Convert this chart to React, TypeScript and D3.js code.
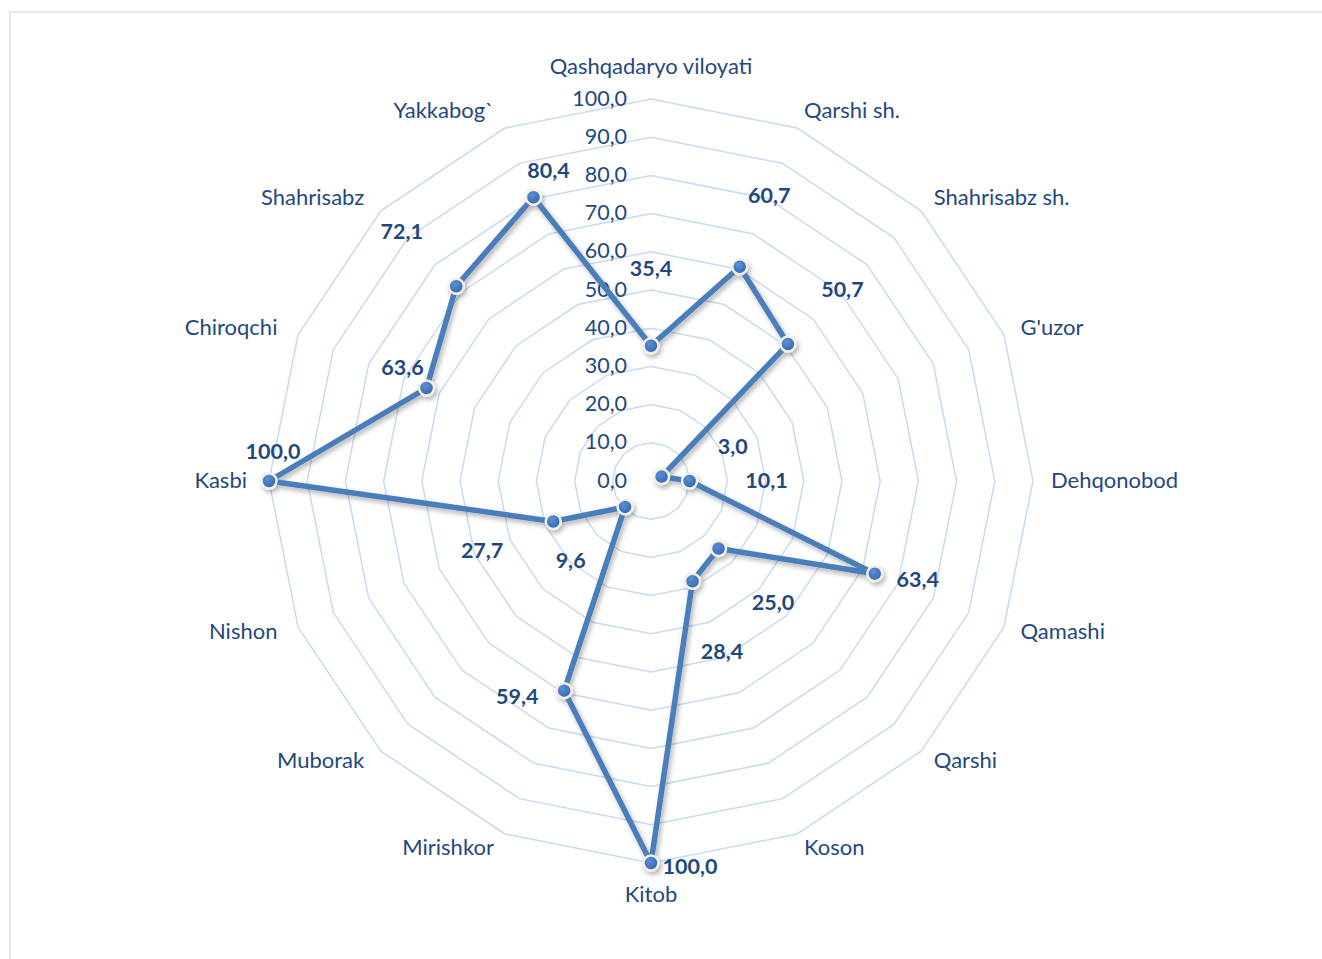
import React, { useEffect } from 'react';
import * as d3 from 'd3';

const categories = [
  'Qashqadaryo viloyati', 'Qarshi sh.', 'Shahrisabz sh.', "G'uzor", 'Dehqonobod',
  'Qamashi', 'Qarshi', 'Koson', 'Kitob', 'Mirishkor', 'Muborak', 'Nishon',
  'Kasbi', 'Chiroqchi', 'Shahrisabz', 'Yakkabog`'
];
const values = [35.4, 60.7, 50.7, 3.0, 10.1, 63.4, 25.0, 28.4, 100.0, 59.4, 9.6, 27.7, 100.0, 63.6, 72.1, 80.4];
const ticks = [0, 10, 20, 30, 40, 50, 60, 70, 80, 90, 100];

// hand-placed data labels (pixel nudge from the point), like in the source chart
const labelNudge: Record<number, [number, number]> = {
  5: [43, 6],
  8: [39, 4],
  9: [-47, 6],
  12: [4, -29],
  13: [-24, -20],
  15: [15, -26]
};

const W = 1322;
const H = 959;
const cx = 651;
const cy = 481;
const FONT = 'Lato, "Open Sans", sans-serif';
const TEXT = '#1f497d';
const GRID = '#c9daf0';
const LINE = '#4a7ebb';

const fmt = (v: number) => d3.format('.1f')(v).replace('.', ',');

export default function App() {
  useEffect(() => {
    document.body.style.margin = '0';
    document.body.style.overflow = 'hidden';
  }, []);

  const r = d3.scaleLinear().domain([0, 100]).range([0, 382]);
  const n = categories.length;
  const angle = (i: number) => (i * 2 * Math.PI) / n;
  const px = (i: number, rad: number) => cx + rad * Math.sin(angle(i));
  const py = (i: number, rad: number) => cy - rad * Math.cos(angle(i));

  const gridLine = d3
    .lineRadial<number>()
    .angle((_, i) => angle(i))
    .curve(d3.curveLinearClosed);

  const dataLine = d3
    .lineRadial<number>()
    .angle((_, i) => angle(i))
    .radius((v) => r(v))
    .curve(d3.curveLinearClosed);

  return (
    <svg width={W} height={H} style={{ display: 'block', position: 'absolute', left: 0, top: 0 }}>
      <defs>
        <filter id="shadow" x="-10%" y="-10%" width="120%" height="120%">
          <feDropShadow dx="2" dy="3" stdDeviation="2.5" floodColor="#000" floodOpacity="0.3" />
        </filter>
        <radialGradient id="mk" cx="40%" cy="35%" r="70%">
          <stop offset="0%" stopColor="#5b8fd6" />
          <stop offset="100%" stopColor="#2f63b0" />
        </radialGradient>
      </defs>
      <rect x={10} y={12} width={W} height={H} fill="#fff" stroke="#d9e0ec" strokeWidth={1.5} />

      <g transform={`translate(${cx},${cy})`}>
        {ticks.slice(1).map((t) => (
          <path
            key={t}
            d={gridLine.radius(() => r(t))(categories.map(() => t)) || ''}
            fill="none"
            stroke={GRID}
            strokeWidth={1.5}
          />
        ))}
      </g>

      {ticks.map((t) => (
        <text
          key={t}
          x={cx - 24}
          y={cy - r(t) - 1.5}
          textAnchor="end"
          dominantBaseline="central"
          fontFamily={FONT}
          fontSize={21.5}
          fill={TEXT}
        >
          {fmt(t)}
        </text>
      ))}

      {categories.map((c, i) => {
        const s = Math.sin(angle(i));
        const co = Math.cos(angle(i));
        const rad = 400;
        const anchor = s > 0.01 ? 'start' : s < -0.01 ? 'end' : 'middle';
        const dx = anchor === 'end' ? -4 : 0;
        let dy = Math.abs(s) < 0.01 ? (co > 0 ? -16 : 12) : -1.5;
        if (co < -0.01 && Math.abs(s) >= 0.01) dy -= 2.5;
        return (
          <text
            key={c}
            x={px(i, rad) + dx}
            y={py(i, rad) + dy}
            textAnchor={anchor}
            dominantBaseline="central"
            fontFamily={FONT}
            fontSize={22}
            fill={TEXT}
          >
            {c}
          </text>
        );
      })}

      <g transform={`translate(${cx},${cy})`} filter="url(#shadow)">
        <path d={dataLine(values) || ''} fill="none" stroke={LINE} strokeWidth={5.5} strokeLinejoin="round" />
        {values.map((v, i) => (
          <circle
            key={i}
            cx={r(v) * Math.sin(angle(i))}
            cy={-r(v) * Math.cos(angle(i))}
            r={7.5}
            fill="url(#mk)"
            stroke="#f2efe4"
            strokeWidth={2.5}
          />
        ))}
      </g>

      {values.map((v, i) => {
        const nudge = labelNudge[i];
        const x = nudge ? px(i, r(v)) + nudge[0] : px(i, r(v) + 77);
        const y = nudge ? py(i, r(v)) + nudge[1] : py(i, r(v) + 77);
        return (
          <text
            key={i}
            x={x}
            y={y - 1}
            textAnchor="middle"
            dominantBaseline="central"
            fontFamily={FONT}
            fontSize={21.5}
            fontWeight="bold"
            fill={TEXT}
          >
            {fmt(v)}
          </text>
        );
      })}
    </svg>
  );
}
